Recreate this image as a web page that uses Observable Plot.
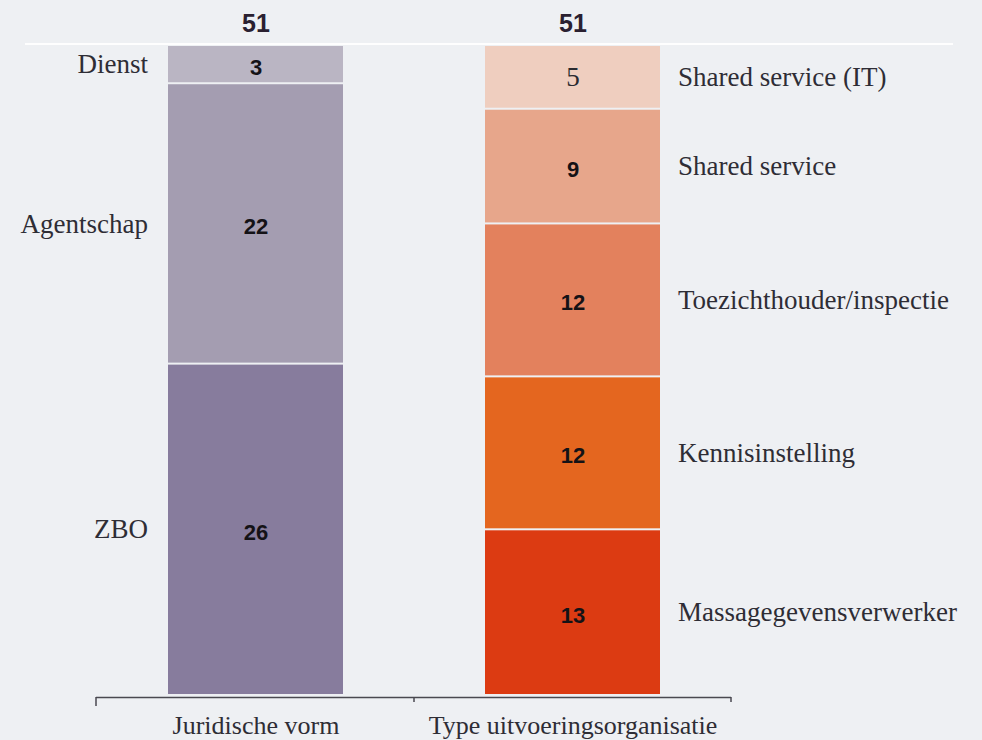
<!DOCTYPE html>
<html>
<head>
<meta charset="utf-8">
<script src="https://cdn.jsdelivr.net/npm/d3@7"></script>
<script src="https://cdn.jsdelivr.net/npm/@observablehq/plot@0.6"></script>
<style>
  html, body { margin: 0; padding: 0; background: #eef0f3; }
</style>
</head>
<body>
<script>
// ---- data ----
const categories = ["Juridische vorm", "Type uitvoeringsorganisatie"];

const juridischLabels = ["Dienst", "Agentschap", "ZBO"];
const juridischValues = [3, 22, 26];

const typeLabels = ["Shared service (IT)", "Shared service", "Toezichthouder/inspectie", "Kennisinstelling", "Massagegevensverwerker"];
const typeValues = [5, 9, 12, 12, 13];

// ---- styles ----
const juridischColors = ["#bab5c3", "#a49db1", "#877c9d"];
const typeColors = ["#efcebf", "#e7a68b", "#e3815d", "#e4661f", "#dc3b12"];
const serifValueLabels = new Set(["Shared service (IT)"]);

const leftRows = juridischLabels.map((label, i) => ({cat: categories[0], label, value: juridischValues[i]}));
const rightRows = typeLabels.map((label, i) => ({cat: categories[1], label, value: typeValues[i]}));
const allRows = [...leftRows, ...rightRows];
const totals = [d3.sum(juridischValues), d3.sum(typeValues)];
const yMax = d3.max(totals);

const serif = "'Liberation Serif', 'Times New Roman', serif";
const sans = "'Liberation Sans', Arial, sans-serif";
const narrow = "'Liberation Sans Narrow', 'Liberation Sans', Arial, sans-serif";

const plot = Plot.plot({
  width: 982,
  height: 740,
  marginTop: 45,
  marginBottom: 45,
  marginLeft: 96,
  marginRight: 251,
  style: {background: "#eef0f3", color: "#2e2d35", overflow: "visible"},
  x: {domain: categories, paddingInner: 0.449, paddingOuter: 0.2245, label: null},
  y: {domain: [0, yMax], reverse: true, axis: null},
  color: {domain: [...juridischLabels, ...typeLabels], range: [...juridischColors, ...typeColors]},
  marks: [
    Plot.barY(allRows, Plot.stackY({x: "cat", y: "value", fill: "label", insetTop: 1, insetBottom: 1})),
    // values inside bars (sans bold)
    Plot.text(allRows, Plot.stackY({
      x: "cat", y: "value",
      text: d => serifValueLabels.has(d.label) ? "" : String(d.value),
      fontFamily: sans, fontWeight: "bold", fontSize: 22, fill: "#141216", dy: 3
    })),
    // values inside bars (serif)
    Plot.text(allRows, Plot.stackY({
      x: "cat", y: "value",
      text: d => serifValueLabels.has(d.label) ? String(d.value) : "",
      fontFamily: serif, fontSize: 27, fill: "#2a2a30", dy: 0
    })),
    // left labels
    Plot.text(leftRows, Plot.stackY({
      x: "cat", y: "value", text: "label",
      textAnchor: "end", dx: -108, fontFamily: serif, fontSize: 27, fill: "#2e2d35"
    })),
    // right labels
    Plot.text(rightRows, Plot.stackY({
      x: "cat", y: "value", text: "label",
      textAnchor: "start", dx: 105, fontFamily: serif, fontSize: 27, fill: "#2e2d35"
    })),
    // totals above bars
    Plot.text(categories, {
      x: d => d, y: () => 0, text: (d, i) => String(totals[i]),
      dy: -22, fontFamily: narrow, fontWeight: "bold", fontSize: 25, fill: "#2a2030"
    }),
    // baseline
    Plot.ruleY([yMax], {stroke: "#4a4950", strokeWidth: 1.5, dy: 2}),
    Plot.axisX({tickSize: 0, tickPadding: 20, fontSize: 26, fontFamily: serif, label: null, fill: "#2e2d35"})
  ]
});

const xs = plot.scale("x");
const ys = plot.scale("y");
const svg = d3.select(plot);

// faint white line along the top of the bars, across the page
const yTop = ys.apply(0) - 1;
svg.insert("line", ":first-child")
  .attr("x1", 25).attr("x2", 953)
  .attr("y1", yTop).attr("y2", yTop)
  .attr("stroke", "#ffffff").attr("stroke-width", 2).attr("stroke-opacity", 0.9);

// small ticks at the ends of the baseline and between the bars
const yBase = ys.apply(yMax) + 2;
const c0 = xs.apply(categories[0]);
const c1 = xs.apply(categories[1]);
const tickXs = [xs.range[0], (c0 + xs.bandwidth + c1) / 2, xs.range[1]];
const g = svg.append("g").attr("stroke", "#4a4950").attr("stroke-width", 1.5);
tickXs.forEach((tx, i) => {
  g.append("line")
    .attr("x1", tx).attr("x2", tx)
    .attr("y1", yBase).attr("y2", yBase + (i === 0 ? 9 : 5));
});

document.body.append(plot);
</script>
</body>
</html>
